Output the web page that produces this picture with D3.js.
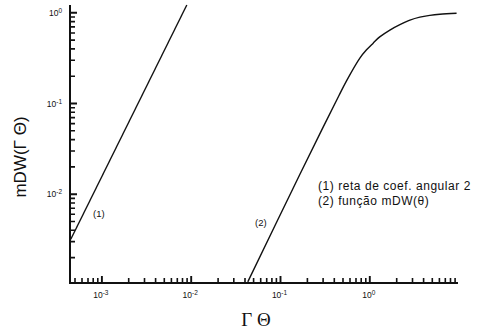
<!DOCTYPE html>
<html>
<head>
<meta charset="utf-8">
<script src="https://cdn.jsdelivr.net/npm/d3@7"></script>
<style>
  html, body { margin: 0; padding: 0; background: #fff; }
  svg { display: block; }
  text { font-family: "Liberation Sans", Arial, Helvetica, sans-serif; fill: #111; }
</style>
</head>
<body>
<svg id="chart" width="482" height="331"></svg>
<script>
// ---- data ----
const xDomain = [4.4e-4, 9.7];
const yDomain = [1.05e-3, 1.22];
const majorExps = [-3, -2, -1, 0];
const yMajorExps = [-2, -1, 0];

// (1) straight line of slope 2
const line1X = [4.49e-4, 8.93e-3];
const line1Y = [3.19e-3, 1.22];

// (2) mDW function
const line2X = [0.043, 0.1644, 0.30, 0.45, 0.548, 0.773, 0.918, 1.089, 1.29, 1.675, 2.17, 2.81, 3.63, 4.70, 6.08, 9.35];
const line2Y = [1.08e-3, 0.0165, 0.055, 0.122, 0.178, 0.317, 0.391, 0.463, 0.543, 0.646, 0.741, 0.832, 0.897, 0.937, 0.964, 0.991];

const legendLines = ["(1) reta de coef. angular 2", "(2) função mDW(θ)"];
const seriesLabels = ["(1)", "(2)"];

// ---- drawing ----
const svg = d3.select("#chart");
const mLeft = 70, mRight = 458, mTop = 5, mBottom = 283;

const xs = d3.scaleLog().domain(xDomain).range([mLeft, mRight]);
const ys = d3.scaleLog().domain(yDomain).range([mBottom, mTop]);

function minorTicks(domain) {
  const out = [];
  const lo = Math.floor(Math.log10(domain[0])), hi = Math.ceil(Math.log10(domain[1]));
  for (let e = lo; e <= hi; e++) {
    for (let m = 2; m <= 9; m++) {
      const v = m * Math.pow(10, e);
      if (v >= domain[0] && v <= domain[1]) out.push(v);
    }
  }
  return out;
}
const xMajor = majorExps.map(e => Math.pow(10, e));
const yMajor = yMajorExps.map(e => Math.pow(10, e));

// ticks as paths built from the scales
const xTickPath = (vals, len) => vals.map(v => `M${xs(v).toFixed(1)},${mBottom}v${-len}`).join("");
const yTickPath = (vals, len) => vals.map(v => `M${mLeft},${ys(v).toFixed(1)}h${len}`).join("");

svg.append("path").attr("d", xTickPath(minorTicks(xDomain), 5))
  .attr("fill", "none").attr("stroke", "#111").attr("stroke-width", 1.6);
svg.append("path").attr("d", xTickPath(xMajor, 7))
  .attr("fill", "none").attr("stroke", "#111").attr("stroke-width", 1.9);
svg.append("path").attr("d", yTickPath(minorTicks(yDomain), 5))
  .attr("fill", "none").attr("stroke", "#111").attr("stroke-width", 1.6);
svg.append("path").attr("d", yTickPath(yMajor, 7))
  .attr("fill", "none").attr("stroke", "#111").attr("stroke-width", 1.9);

function supLabel(t, d) {
  const e = Math.round(Math.log10(d));
  t.append("tspan").text("10").style("font-size", "8.5px");
  t.append("tspan").text(String(e)).attr("dy", "-3").style("font-size", "6.5px");
}

// tick labels
svg.append("g").selectAll("text").data(xMajor).join("text")
  .attr("x", d => xs(d) - 1).attr("y", 298).attr("text-anchor", "middle")
  .each(function(d) { supLabel(d3.select(this), d); });
svg.append("g").selectAll("text").data(yMajor).join("text")
  .attr("x", mLeft - 8).attr("y", d => ys(d) + 3).attr("text-anchor", "end")
  .each(function(d) { supLabel(d3.select(this), d); });

// axis lines
svg.append("path")
  .attr("d", `M${mLeft},${ys(yDomain[1])}V${mBottom}H${mRight}`)
  .attr("fill", "none").attr("stroke", "#111").attr("stroke-width", 2);

// clip
svg.append("clipPath").attr("id", "clip").append("rect")
  .attr("x", mLeft).attr("y", 0).attr("width", mRight - mLeft + 2).attr("height", mBottom);

svg.append("path")
  .datum(line1X.map((v, i) => [v, line1Y[i]]))
  .attr("d", d3.line().x(d => xs(d[0])).y(d => ys(d[1])))
  .attr("fill", "none").attr("stroke", "#111").attr("stroke-width", 1.4)
  .attr("clip-path", "url(#clip)");

svg.append("path")
  .datum(line2X.map((v, i) => [v, line2Y[i]]))
  .attr("d", d3.line().x(d => xs(d[0])).y(d => ys(d[1])).curve(d3.curveCatmullRom.alpha(0.5)))
  .attr("fill", "none").attr("stroke", "#111").attr("stroke-width", 1.4)
  .attr("clip-path", "url(#clip)");

// series labels
svg.append("text").attr("x", 93).attr("y", 217).style("font-size", "9.5px").text(seriesLabels[0]);
svg.append("text").attr("x", 255).attr("y", 226).style("font-size", "9.5px").text(seriesLabels[1]);

// legend text
svg.append("text").attr("x", 318).attr("y", 190).style("font-size", "12px").style("letter-spacing", "0.55px").text(legendLines[0]);
svg.append("text").attr("x", 318).attr("y", 205).style("font-size", "12px").style("letter-spacing", "0.55px").text(legendLines[1]);

// axis titles
svg.append("text").attr("x", 256).attr("y", 326).attr("text-anchor", "middle")
  .style("font-family", "'Liberation Serif', 'DejaVu Serif', serif").style("font-size", "19px")
  .text("Γ Θ");
svg.append("text").attr("transform", "translate(26,157) rotate(-90)").attr("text-anchor", "middle")
  .style("font-size", "17px").text("mDW(Γ Θ)");
</script>
</body>
</html>
